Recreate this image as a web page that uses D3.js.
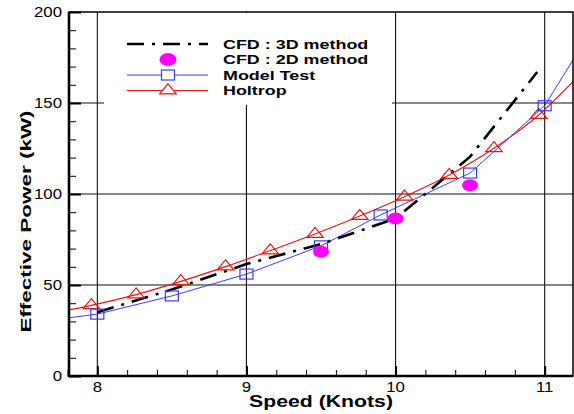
<!DOCTYPE html>
<html>
<head>
<meta charset="utf-8">
<script src="https://cdn.jsdelivr.net/npm/d3@7"></script>
<style>
  body { margin: 0; background: #fff; }
  text { font-family: "Liberation Sans", Arial, sans-serif; }
</style>
</head>
<body>
<script>
const width = 574
const height = 414

// values
const cfd3dSpeed = [8, 8.5, 9, 9.5, 10, 10.5, 10.95]
const cfd3dPower = [35, 47.5, 61.5, 72.5, 86.5, 120.5, 167]

const cfd2dSpeed = [9.5, 10, 10.5]
const cfd2dPower = [68.3, 86.6, 104.8]

const modelSpeed = [8, 8.5, 9, 9.5, 9.9, 10.5, 11]
const modelPower = [34, 44, 56, 71.5, 88.5, 111.5, 148.5]
const modelTrendSpeed = [7.81, 11.19] // fitted line runs edge to edge
const modelTrendPower = [32, 173.6]

const holtropSpeed = [7.96, 8.26, 8.56, 8.86, 9.16, 9.46, 9.76, 10.06, 10.36, 10.66, 10.96]
const holtropPower = [38.8, 44.7, 52.0, 60.1, 68.9, 78.0, 87.9, 98.5, 110.4, 125.1, 143.4]
const holtropTrendSpeed = [7.81, 11.19]
const holtropTrendPower = [36.3, 161.7]

const xMajor = [8, 9, 10, 11]
const yMajor = [0, 50, 100, 150, 200]
const legendLabels = ['CFD : 3D method', 'CFD : 2D method', 'Model Test', 'Holtrop']

const red = '#e01818'
const blue = '#3c3cff'
const magenta = '#ff00ff'

const plotLeft = 69
const plotRight = 573
const plotTop = 12
const plotBottom = 376

const x = d3.scaleLinear().domain([7.81, 11.19]).range([plotLeft, plotRight])
const y = d3.scaleLinear().domain([0, 200]).range([plotBottom, plotTop])

const svg = d3.select('body').append('svg')
  .attr('width', width)
  .attr('height', height)

svg.append('defs').append('clipPath').attr('id', 'plot')
  .append('rect')
  .attr('x', plotLeft).attr('y', plotTop)
  .attr('width', plotRight - plotLeft).attr('height', plotBottom - plotTop)

// grid
const grid = svg.append('g').attr('stroke', '#111').attr('stroke-width', 1.1)
grid.selectAll('.vg')
  .data(xMajor)
  .enter().append('line')
  .attr('x1', d => x(d)).attr('x2', d => x(d))
  .attr('y1', plotTop).attr('y2', plotBottom)
grid.selectAll('.hg')
  .data([50, 100, 150])
  .enter().append('line')
  .attr('x1', plotLeft).attr('x2', plotRight)
  .attr('y1', d => y(d)).attr('y2', d => y(d))

// legend background hides the grid behind it
svg.append('rect')
  .attr('x', 104).attr('y', 13)
  .attr('width', 288).attr('height', 92)
  .attr('fill', '#fff')

function zip (xs, ys) {
  return xs.map(function (d, i) { return [d, ys[i]] })
}

const plot = svg.append('g').attr('clip-path', 'url(#plot)')

const line = d3.line().x(d => x(d[0])).y(d => y(d[1]))
const smooth = d3.line().x(d => x(d[0])).y(d => y(d[1])).curve(d3.curveMonotoneX)

const modelLine = [[modelTrendSpeed[0], modelTrendPower[0]]]
  .concat(zip(modelSpeed, modelPower), [[modelTrendSpeed[1], modelTrendPower[1]]])
const holtropLine = [[holtropTrendSpeed[0], holtropTrendPower[0]]]
  .concat(zip(holtropSpeed, holtropPower), [[holtropTrendSpeed[1], holtropTrendPower[1]]])

plot.append('path')
  .attr('d', smooth(holtropLine))
  .attr('fill', 'none').attr('stroke', red).attr('stroke-width', 1.1)

plot.append('path')
  .attr('d', line(modelLine))
  .attr('fill', 'none').attr('stroke', blue).attr('stroke-width', 1)

plot.append('path')
  .attr('d', line(zip(cfd3dSpeed, cfd3dPower)))
  .attr('fill', 'none').attr('stroke', '#000')
  .attr('stroke-width', 2.6)
  .attr('stroke-dasharray', '17,8,3,8')

const triangle = 'M0,-6.7L8.3,3.3L-8.3,3.3Z'

plot.selectAll('.tri')
  .data(zip(holtropSpeed, holtropPower))
  .enter().append('path')
  .attr('d', triangle)
  .attr('transform', d => 'translate(' + x(d[0]) + ',' + y(d[1]) + ')')
  .attr('fill', 'none').attr('stroke', red).attr('stroke-width', 1.2)

plot.selectAll('.sq')
  .data(zip(modelSpeed, modelPower))
  .enter().append('rect')
  .attr('x', d => x(d[0]) - 6.5).attr('y', d => y(d[1]) - 5)
  .attr('width', 13).attr('height', 10)
  .attr('fill', 'none').attr('stroke', blue).attr('stroke-width', 1.2)

plot.selectAll('.dot')
  .data(zip(cfd2dSpeed, cfd2dPower))
  .enter().append('ellipse')
  .attr('cx', d => x(d[0])).attr('cy', d => y(d[1]))
  .attr('rx', 8).attr('ry', 6)
  .attr('fill', magenta)

// frame
svg.append('rect')
  .attr('x', plotLeft).attr('y', plotTop)
  .attr('width', plotRight - plotLeft).attr('height', plotBottom - plotTop)
  .attr('fill', 'none').attr('stroke', '#000').attr('stroke-width', 1.5)
svg.append('path')
  .attr('d', 'M' + plotLeft + ',' + plotTop + 'V' + plotBottom + 'H' + plotRight)
  .attr('fill', 'none').attr('stroke', '#000').attr('stroke-width', 2.6)

// ticks pointing inward
function ticks (axis, t) {
  const g = svg.append('g').attr('transform', t).call(axis)
  g.select('.domain').remove()
  g.selectAll('line').attr('stroke', '#000')
  return g
}
ticks(d3.axisLeft(y).tickValues(d3.range(0, 201, 10)).tickSize(-7).tickFormat(''), 'translate(' + plotLeft + ',0)')
ticks(d3.axisLeft(y).tickValues(yMajor).tickSize(-12).tickFormat(''), 'translate(' + plotLeft + ',0)')
  .selectAll('line').attr('stroke-width', 2)
ticks(d3.axisBottom(x).tickValues(d3.range(7.8, 11.2, 0.2).map(d => +d.toFixed(1))).tickSize(-6).tickFormat(''), 'translate(0,' + plotBottom + ')')
ticks(d3.axisBottom(x).tickValues(xMajor).tickSize(-10).tickFormat(''), 'translate(0,' + plotBottom + ')')
  .selectAll('line').attr('stroke-width', 2)

// tick labels (the original type is drawn wide)
svg.selectAll('.yl')
  .data(yMajor)
  .enter().append('text')
  .attr('transform', d => 'translate(62,' + (y(d) + 5) + ') scale(1.2,1)')
  .attr('text-anchor', 'end')
  .attr('font-size', 14)
  .text(d => d)

svg.selectAll('.xl')
  .data(xMajor)
  .enter().append('text')
  .attr('transform', d => 'translate(' + x(d) + ',392) scale(1.12,1)')
  .attr('text-anchor', 'middle')
  .attr('font-size', 15)
  .text(d => d)

svg.append('text')
  .attr('transform', 'translate(321,407) scale(1.25,1)')
  .attr('text-anchor', 'middle')
  .attr('font-size', 17).attr('font-weight', 'bold')
  .text('Speed (Knots)')

svg.append('text')
  .attr('transform', 'translate(30.5,221.5) rotate(-90) scale(1.45,1)')
  .attr('text-anchor', 'middle')
  .attr('font-size', 15.5).attr('font-weight', 'bold')
  .text('Effective Power (kW)')

// legend
const legendRows = [44, 59.5, 75, 90.5]
const lg = svg.append('g')
lg.selectAll('text')
  .data(legendLabels)
  .enter().append('text')
  .attr('transform', (d, i) => 'translate(223,' + (legendRows[i] + 4.5) + ') scale(1.4,1)')
  .attr('font-size', 12.8).attr('font-weight', 'bold')
  .text(d => d)

lg.append('line')
  .attr('x1', 127).attr('x2', 208).attr('y1', legendRows[0]).attr('y2', legendRows[0])
  .attr('stroke', '#000').attr('stroke-width', 2.6).attr('stroke-dasharray', '17,8,3,8')
lg.append('ellipse')
  .attr('cx', 168).attr('cy', legendRows[1])
  .attr('rx', 8.5).attr('ry', 6.5).attr('fill', magenta)
lg.append('line')
  .attr('x1', 127).attr('x2', 208).attr('y1', legendRows[2]).attr('y2', legendRows[2])
  .attr('stroke', blue).attr('stroke-width', 1)
lg.append('rect')
  .attr('x', 161.5).attr('y', legendRows[2] - 5).attr('width', 13).attr('height', 10)
  .attr('fill', '#fff').attr('stroke', blue).attr('stroke-width', 1.2)
lg.append('line')
  .attr('x1', 127).attr('x2', 208).attr('y1', legendRows[3]).attr('y2', legendRows[3])
  .attr('stroke', red).attr('stroke-width', 1.1)
lg.append('path')
  .attr('d', triangle)
  .attr('transform', 'translate(168,' + legendRows[3] + ')')
  .attr('fill', '#fff').attr('stroke', red).attr('stroke-width', 1.2)
</script>
</body>
</html>
